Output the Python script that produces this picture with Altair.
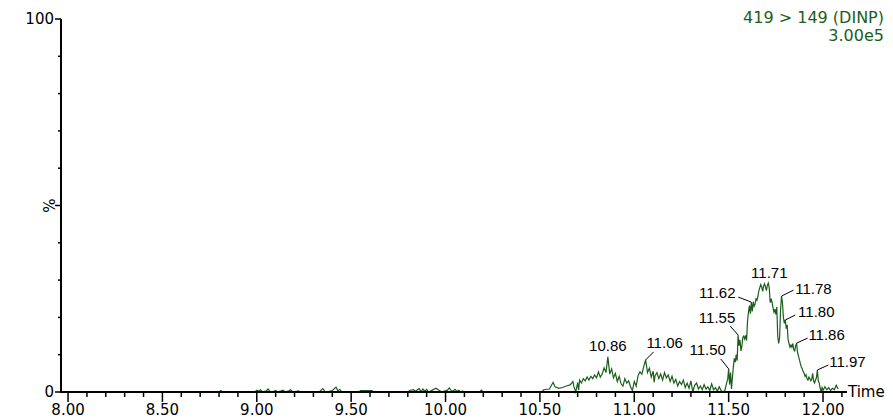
import altair as alt
import pandas as pd

# ---------------- data ----------------
trace_time = [
    8.00, 8.80, 8.81, 8.82, 8.99, 9.00, 9.01, 9.02, 9.03, 9.05, 9.06, 9.07, 9.08, 9.10, 9.11,
    9.14, 9.15, 9.17, 9.18, 9.19, 9.22, 9.23, 9.33, 9.35, 9.36, 9.37, 9.40, 9.42, 9.43, 9.44,
    9.45, 9.54, 9.55, 9.61, 9.62, 9.80, 9.81, 9.83, 9.84, 9.86, 9.87, 9.88, 9.89, 9.90, 9.91,
    9.93, 9.95, 9.97, 9.98, 10.01, 10.02, 10.03, 10.04, 10.05, 10.06, 10.07, 10.08, 10.09, 10.10,
    10.18, 10.19, 10.20, 10.51,
    10.52, 10.55, 10.57, 10.58, 10.60, 10.62, 10.64, 10.66, 10.675, 10.68, 10.69, 10.70, 10.705,
    10.71, 10.72, 10.73, 10.74, 10.75, 10.76, 10.77, 10.78, 10.79, 10.80, 10.81, 10.82, 10.83,
    10.84, 10.85, 10.86, 10.87, 10.88, 10.89, 10.90, 10.91, 10.92, 10.93, 10.94, 10.95, 10.96,
    10.97, 10.98, 10.99, 11.00, 11.01, 11.02, 11.03, 11.04, 11.05, 11.06, 11.07, 11.08, 11.09,
    11.10, 11.105, 11.11, 11.12, 11.13, 11.14, 11.15, 11.16, 11.17, 11.18, 11.19, 11.20, 11.21,
    11.22, 11.23, 11.24, 11.25, 11.26, 11.27, 11.28, 11.29, 11.30, 11.31, 11.32, 11.33, 11.34,
    11.35, 11.36, 11.37, 11.38, 11.39, 11.40, 11.41, 11.42, 11.43, 11.44, 11.45, 11.46,
    11.47, 11.48, 11.49, 11.495, 11.50, 11.505, 11.51, 11.515, 11.52, 11.525, 11.53, 11.535,
    11.54, 11.545, 11.55, 11.555, 11.56, 11.565, 11.57, 11.575, 11.58, 11.585, 11.59, 11.595,
    11.60, 11.605, 11.61, 11.615, 11.62, 11.625, 11.63, 11.635, 11.64, 11.645, 11.65, 11.655,
    11.66, 11.665, 11.67, 11.675, 11.68, 11.685, 11.69, 11.695, 11.70, 11.705, 11.71, 11.715,
    11.72, 11.725, 11.73, 11.735, 11.74, 11.745, 11.75, 11.755, 11.76, 11.765, 11.77, 11.775,
    11.78, 11.785, 11.79, 11.795, 11.80, 11.805, 11.81, 11.815, 11.82, 11.825, 11.83, 11.835,
    11.84, 11.845, 11.85, 11.855, 11.86, 11.865, 11.87, 11.875, 11.88, 11.885, 11.89, 11.895,
    11.90, 11.905, 11.91, 11.915, 11.92, 11.925, 11.93, 11.935, 11.94, 11.945, 11.95, 11.955,
    11.96, 11.965, 11.97, 11.975, 11.98, 11.985, 11.99, 11.995, 12.00, 12.01, 12.02, 12.03,
    12.04, 12.05, 12.06, 12.07, 12.08,
]
trace_pct = [
    0.0, 0.0, 0.4, 0.0, 0.0, 0.5, 0.2, 0.6, 0.0, 0.3, 0.8, 0.1, 0.0, 0.4, 0.0,
    0.5, 0.0, 0.3, 0.6, 0.0, 0.3, 0.0, 0.0, 0.9, 0.2, 0.0, 0.4, 1.3, 0.3, 0.7,
    0.0, 0.0, 0.4, 0.4, 0.0, 0.0, 0.4, 0.6, 0.2, 0.9, 0.1, 0.8, 0.2, 0.7, 0.0,
    0.5, 1.0, 0.3, 0.0, 0.5, 1.1, 0.4, 0.2, 0.7, 0.2, 0.5, 0.0, 0.3, 0.0,
    0.0, 0.5, 0.0, 0.0,
    0.6, 0.8, 2.6, 1.4, 1.0, 1.2, 1.6, 1.9, 2.8, 1.5, 0.0, 2.5, 0.5,
    3.2, 2.4, 3.6, 3.0, 4.0, 3.2, 4.2, 3.6, 4.6, 3.8, 5.4, 4.0, 4.8,
    6.5, 5.2, 9.4, 4.8, 6.2, 3.8, 5.0, 2.8, 4.2, 2.2, 1.6, 3.6, 2.4,
    3.0, 1.4, 0.4, 2.8, 1.6, 4.4, 5.4, 4.8, 6.8, 8.6, 5.2, 6.4, 4.0,
    5.6, 2.6, 4.4, 5.2, 3.6, 4.8, 3.2, 5.2, 3.8, 4.6, 2.8, 4.2, 2.4,
    3.4, 1.6, 2.8, 2.0, 3.2, 1.2, 2.4, 1.0, 3.0, 0.0, 1.8, 2.4, 0.8,
    1.6, 0.6, 2.0, 0.8, 1.4, 0.4, 2.2, 0.6, 1.2, 0.2, 1.4, 0.4,
    0.0, 0.4, 2.6, 3.4, 6.2, 2.0, 5.2, 0.8, 4.0, 6.8, 9.0, 8.0,
    10.0, 8.4, 15.3, 12.4, 14.0, 11.0, 12.2, 14.6, 15.0, 14.2, 15.2, 13.8,
    19.0, 21.4, 23.2, 21.0, 24.1, 21.6, 24.2, 23.0, 23.6, 25.0, 24.6, 25.6,
    27.2, 28.0, 28.8, 28.2, 27.0, 28.4, 29.0, 28.2, 27.2, 28.6, 29.2, 28.0,
    24.0, 25.0, 24.0, 22.6, 21.4, 22.2, 20.8, 22.8, 15.0, 13.0, 14.6, 22.0,
    25.7, 24.0, 20.0, 18.4, 19.3, 17.0, 18.0, 14.0, 13.0, 12.0, 12.6, 12.0,
    13.0, 11.4, 11.0, 12.4, 13.1, 10.6, 9.6, 8.6, 7.6, 6.7, 6.2, 5.4,
    5.0, 4.2, 4.6, 3.6, 3.2, 4.0, 3.6, 3.0, 3.4, 5.0, 3.0, 2.4,
    3.2, 3.8, 5.9, 3.0, 2.4, 1.0, 0.0, 1.2, 0.4, 1.4, 0.6, 1.2,
    0.4, 1.0, 0.6, 1.8, 0.8,
]

peak_labels = ["10.86", "11.06", "11.50", "11.55", "11.62", "11.71", "11.78", "11.80", "11.86", "11.97"]
peak_times = [10.86, 11.06, 11.50, 11.55, 11.62, 11.71, 11.78, 11.80, 11.86, 11.97]
peak_pct = [9.4, 8.6, 6.2, 15.3, 24.1, 29.2, 25.7, 19.3, 13.1, 5.9]

x_major = [8.0, 8.5, 9.0, 9.5, 10.0, 10.5, 11.0, 11.5, 12.0]
x_major_labels = ["8.00", "8.50", "9.00", "9.50", "10.00", "10.50", "11.00", "11.50", "12.00"]
x_minor = [8.1, 8.2, 8.3, 8.4, 8.6, 8.7, 8.8, 8.9, 9.1, 9.2, 9.3, 9.4, 9.6, 9.7, 9.8, 9.9,
           10.1, 10.2, 10.3, 10.4, 10.6, 10.7, 10.8, 10.9, 11.1, 11.2, 11.3, 11.4,
           11.6, 11.7, 11.8, 11.9, 12.1]
y_major = [0, 50, 100]
y_labels = ["0", "100"]
y_label_vals = [0, 100]
y_minor = [10, 20, 30, 40, 60, 70, 80, 90]
y_title = "%"
x_title = "Time"
title_lines = ["419 > 149 (DINP)", "3.00e5"]

# ---------------- styles / layout ----------------
W, H = 785, 373
X_DOMAIN = [7.968, 12.127]
GREEN = "#1b5e1b"
PPM = W / (X_DOMAIN[1] - X_DOMAIN[0])   # px per minute
PPP = H / 100.0                          # px per percent
# per-label (leader dx, leader dy, text dx, text dy) in pixels
label_offsets = [(0, 0, 0, -11), (8, -8, 19, -17), (-8, -10, -21, -19), (-8, -9, -21, -17),
                 (-13, -5, -34, -9), (0, 0, 1, -10), (12, -6, 32, -7), (10, -5, 31, -8),
                 (11, -5, 30, -8), (11, -5, 30, -8)]
title_y = [4, 22]

xs = alt.Scale(domain=X_DOMAIN, nice=False, zero=False)
ys = alt.Scale(domain=[0, 100], nice=False, zero=True)


def X(f):
    return alt.X(f, type="quantitative", scale=xs, axis=None)


def Y(f):
    return alt.Y(f, type="quantitative", scale=ys, axis=None)


trace_df = pd.DataFrame({"t": trace_time, "v": trace_pct})

rows, leads = [], []
for lab, t, v, (ldx, ldy, tdx, tdy) in zip(peak_labels, peak_times, peak_pct, label_offsets):
    rows.append({"label": lab, "tx": t + tdx / PPM, "vy": v - tdy / PPP})
    if ldx != 0 or ldy != 0:
        leads.append({"t": t, "v": v, "t2": t + ldx / PPM, "v2": v - ldy / PPP})
lab_df = pd.DataFrame(rows)
lead_df = pd.DataFrame(leads)

line = alt.Chart(trace_df).mark_line(color=GREEN, strokeWidth=1.2).encode(
    x=X("t"), y=Y("v"), order="t:Q")

base = alt.Chart(pd.DataFrame({"a": [0]}))
yaxis_line = base.mark_rule(color="black", strokeWidth=2).encode(
    x=alt.value(-1), y=alt.value(0), y2=alt.value(H))
xaxis_line = base.mark_rule(color="black", strokeWidth=2).encode(
    x=alt.value(-2), x2=alt.value(W), y=alt.value(H))

xmaj_df = pd.DataFrame({"t": x_major, "label": x_major_labels})
xmaj_ticks = alt.Chart(xmaj_df).mark_rule(color="black", strokeWidth=1.5).encode(
    x=X("t"), y=alt.value(H), y2=alt.value(H + 10))
xmin_ticks = alt.Chart(pd.DataFrame({"t": x_minor})).mark_rule(color="black", strokeWidth=1.5).encode(
    x=X("t"), y=alt.value(H), y2=alt.value(H + 5))
xlabels = alt.Chart(xmaj_df).mark_text(
    font="DejaVu Sans", fontSize=15, color="black", baseline="middle", align="center").encode(
    x=X("t"), y=alt.value(H + 18), text="label:N")

ymaj_ticks = alt.Chart(pd.DataFrame({"v": y_major})).mark_rule(color="black", strokeWidth=1.5).encode(
    y=Y("v"), x=alt.value(-7), x2=alt.value(-1))
ymin_ticks = alt.Chart(pd.DataFrame({"v": y_minor})).mark_rule(color="black", strokeWidth=1.5).encode(
    y=Y("v"), x=alt.value(-4), x2=alt.value(-1))
ylabels = alt.Chart(pd.DataFrame({"v": y_label_vals, "label": y_labels})).mark_text(
    font="DejaVu Sans", fontSize=15, color="black", baseline="middle", align="right").encode(
    y=Y("v"), x=alt.value(-8), text="label:N")
ytitle = alt.Chart(pd.DataFrame({"v": [50], "label": [y_title]})).mark_text(
    font="DejaVu Sans", fontSize=15, color="black", baseline="middle", align="center", angle=90).encode(
    y=Y("v"), x=alt.value(-14), text="label:N")
xtitle = alt.Chart(pd.DataFrame({"label": [x_title]})).mark_text(
    font="DejaVu Sans", fontSize=15, color="black", baseline="middle", align="left").encode(
    x=alt.value(786), y=alt.value(H), text="label:N")

title = alt.Chart(pd.DataFrame({"label": title_lines, "py": title_y})).mark_text(
    font="DejaVu Sans", fontSize=16, color=GREEN, baseline="alphabetic", align="right").encode(
    x=alt.value(822), y=alt.Y("py:Q", scale=None, axis=None), text="label:N")

leaders = alt.Chart(lead_df).mark_rule(color="black", strokeWidth=1).encode(
    x=X("t"), y=Y("v"), x2="t2:Q", y2="v2:Q")
plabels = alt.Chart(lab_df).mark_text(
    font="Liberation Sans", fontSize=15, color="black", baseline="middle", align="center").encode(
    x=X("tx"), y=Y("vy"), text="label:N")

chart = alt.layer(
    line, xaxis_line, yaxis_line, xmaj_ticks, xmin_ticks, xlabels,
    ymaj_ticks, ymin_ticks, ylabels, ytitle, xtitle, title, leaders, plabels
).properties(
    width=W, height=H,
    padding={"left": 54, "top": 11, "right": 38, "bottom": 26},
    autosize=alt.AutoSizeParams(type="none"),
    background="white",
).configure_view(stroke="transparent")

chart.save("out.html", embed_options={"renderer": "svg", "actions": False})
